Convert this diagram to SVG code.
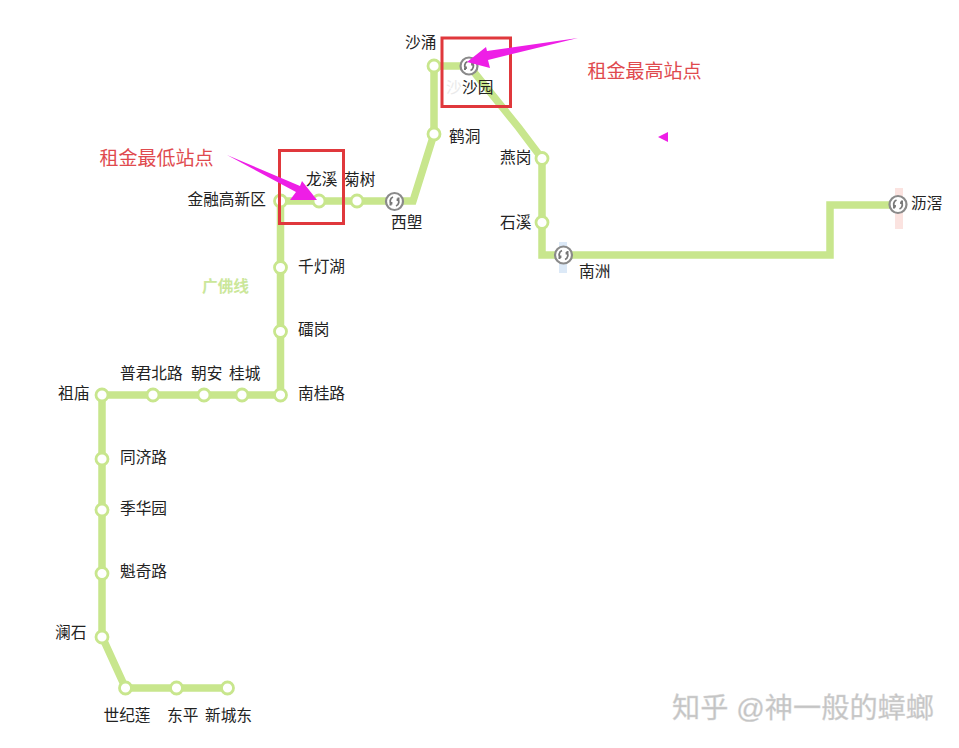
<svg xmlns="http://www.w3.org/2000/svg" width="959" height="748" viewBox="0 0 959 748">
<style>
text{font-family:"Liberation Sans","Noto Sans CJK SC",sans-serif}
.l{font-size:15.700px;fill:#222}
.r{font-size:19px;fill:#e04a4e}
.s{fill:#fff;stroke:#c8e68d;stroke-width:2.800}
.t{fill:#fff;stroke:#8a8a8a;stroke-width:2.200}
.g{fill:none;stroke:#777;stroke-width:1.800}
.b{fill:none;stroke:#e0383c;stroke-width:3}
.a{fill:#ee1ee6}
.w{font-size:28.200px;fill:#c4c4c4;stroke:#d8d8d8;stroke-width:.4}
</style>
<defs>
<g id="x"><circle class="t" r="8.500"/><path class="g" d="M-1.500-4.500A4.600 4.600 0 0 0-3 3M-3 3V.5M-3 3H-5M1.500 4.500A4.600 4.600 0 0 0 3-3M3-3V-.5M3-3H5"/></g>
</defs>
<rect width="959" height="748" fill="#fff"/>
<rect x="559" y="242" width="8" height="31" fill="#dce9f7"/>
<rect x="895" y="188" width="8" height="41" fill="#fbe3e0"/>
<g id="connectors">
<path fill="none" stroke="#c8e68d" stroke-width="7.500" stroke-linejoin="miter" d="M227 688H125.500L102 636.500V395H280.500V201H413L434 134V66H469L519 128 542 158.500V255H830V205H898"/>
</g>
<g id="st-xinchengdong"><circle class="s" cx="227.500" cy="688" r="6"/><text class="l" x="205" y="721">新城东</text></g>
<g id="st-dongping"><circle class="s" cx="176.500" cy="688" r="6"/><text class="l" x="167" y="721">东平</text></g>
<g id="st-shijilian"><circle class="s" cx="125.500" cy="688" r="6"/><text class="l" x="103.500" y="721">世纪莲</text></g>
<g id="st-lanshi"><circle class="s" cx="102" cy="637" r="6"/><text class="l" x="55" y="638">澜石</text></g>
<g id="st-kuiqilu"><circle class="s" cx="102" cy="573.500" r="6"/><text class="l" x="120" y="577">魁奇路</text></g>
<g id="st-jihuayuan"><circle class="s" cx="102" cy="510" r="6"/><text class="l" x="120" y="514">季华园</text></g>
<g id="st-tongjilu"><circle class="s" cx="102" cy="459" r="6"/><text class="l" x="120" y="463">同济路</text></g>
<g id="st-zumiao"><circle class="s" cx="102" cy="395" r="6"/><text class="l" x="58" y="399">祖庙</text></g>
<g id="st-pujunbeilu"><circle class="s" cx="153" cy="395" r="6"/><text class="l" x="120" y="379">普君北路</text></g>
<g id="st-chaoan"><circle class="s" cx="204" cy="395" r="6"/><text class="l" x="191" y="379">朝安</text></g>
<g id="st-guicheng"><circle class="s" cx="242" cy="395" r="6"/><text class="l" x="229" y="379">桂城</text></g>
<g id="st-nanguilu"><circle class="s" cx="280.500" cy="395" r="6"/><text class="l" x="298" y="399">南桂路</text></g>
<g id="st-leigang"><circle class="s" cx="280.500" cy="331.500" r="6"/><text class="l" x="298" y="335">礌岗</text></g>
<g id="st-qiandenghu"><circle class="s" cx="280.500" cy="267.500" r="6"/><text class="l" x="298" y="272">千灯湖</text></g>
<g id="st-jinrong"><circle class="s" cx="280.500" cy="201" r="6"/><text class="l" x="187.500" y="205">金融高新区</text></g>
<g id="st-longxi"><circle class="s" cx="319" cy="201" r="6"/><text class="l" x="306" y="185">龙溪</text></g>
<g id="st-jushu"><circle class="s" cx="357" cy="201" r="6"/><text class="l" x="344" y="185">菊树</text></g>
<g id="st-xisu"><use href="#x" x="394.500" y="201.500"/><text class="l" x="391" y="228">西塱</text></g>
<g id="st-hedong"><circle class="s" cx="434" cy="134" r="6"/><text class="l" x="449" y="142">鹤洞</text></g>
<g id="st-shachong"><circle class="s" cx="434" cy="66" r="6"/><text class="l" x="405" y="48">沙涌</text></g>
<g id="st-shayuan"><use href="#x" x="469" y="66"/><text class="l" x="446" y="93" style="fill:#eaeaea">沙</text><text class="l" x="462" y="93">沙园</text></g>
<g id="st-yangang"><circle class="s" cx="542" cy="158.500" r="6"/><text class="l" x="500" y="163">燕岗</text></g>
<g id="st-shixi"><circle class="s" cx="542" cy="222.500" r="6"/><text class="l" x="500" y="228">石溪</text></g>
<g id="st-nanzhou"><use href="#x" x="563.500" y="255"/><text class="l" x="579" y="277">南洲</text></g>
<g id="st-lijiao"><use href="#x" x="898" y="204.500"/><text class="l" x="911" y="209">沥滘</text></g>
<text id="line-name" x="202" y="291.500" font-size="15.700" font-weight="700" fill="#cbe79a">广佛线</text>
<g id="callout-high">
<rect class="b" x="442" y="38" width="68.500" height="68.500"/>
<path class="a" d="M578 38 487 51 486 47 467 62 490 68 488 60Z"/>
<path class="a" d="M658 137 668 132V142Z"/>
<text class="r" x="587.500" y="78">租金最高站点</text>
</g>
<g id="callout-low">
<rect class="b" x="279.500" y="150.500" width="64" height="73"/>
<path class="a" d="M227 155 300 186 302 181 317 200H290L296 192Z"/>
<text class="r" x="99.500" y="165">租金最低站点</text>
</g>
<text id="watermark" class="w" x="672" y="718">知乎 @神一般的蟑螂</text>
</svg>
